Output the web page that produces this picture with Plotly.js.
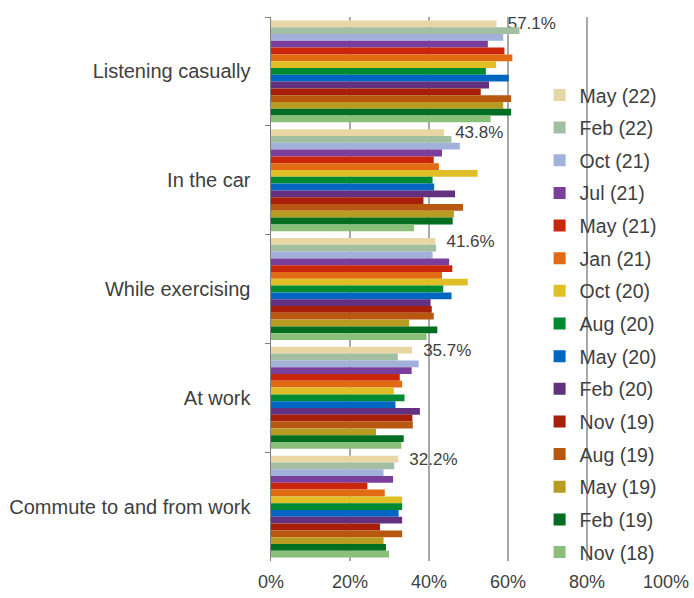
<!DOCTYPE html>
<html>
<head>
<meta charset="utf-8">
<script src="https://cdn.plot.ly/plotly-3.0.1.min.js"></script>
<style>html,body{margin:0;padding:0;background:#fff;}#chart{width:694px;height:598px;}</style>
</head>
<body>
<div id="chart"></div>
<script>
const categories = ["Listening casually", "In the car", "While exercising", "At work", "Commute to and from work"];
const seriesNames = ["May (22)", "Feb (22)", "Oct (21)", "Jul (21)", "May (21)", "Jan (21)", "Oct (20)", "Aug (20)", "May (20)", "Feb (20)", "Nov (19)", "Aug (19)", "May (19)", "Feb (19)", "Nov (18)"];
const seriesColors = ["#E8D6A4", "#A2BFA2", "#A1B1DA", "#7A3F9D", "#C9260B", "#E06B13", "#E0BF26", "#008A31", "#0066C1", "#633180", "#A81F09", "#B8570F", "#B89B21", "#006E21", "#8ABF7A"];

const may22 = [0.571, 0.438, 0.416, 0.357, 0.322];
const feb22 = [0.629, 0.457, 0.418, 0.321, 0.312];
const oct21 = [0.588, 0.478, 0.409, 0.374, 0.285];
const jul21 = [0.549, 0.433, 0.451, 0.356, 0.309];
const may21 = [0.591, 0.412, 0.459, 0.326, 0.244];
const jan21 = [0.611, 0.425, 0.433, 0.332, 0.288];
const oct20 = [0.570, 0.523, 0.498, 0.311, 0.332];
const aug20 = [0.544, 0.409, 0.436, 0.338, 0.332];
const may20 = [0.602, 0.413, 0.457, 0.315, 0.323];
const feb20 = [0.552, 0.466, 0.404, 0.377, 0.332];
const nov19 = [0.531, 0.386, 0.407, 0.358, 0.276];
const aug19 = [0.608, 0.486, 0.412, 0.359, 0.332];
const may19 = [0.588, 0.463, 0.350, 0.266, 0.285];
const feb19 = [0.608, 0.460, 0.421, 0.336, 0.291];
const nov18 = [0.556, 0.362, 0.394, 0.330, 0.299];

const seriesValues = [may22, feb22, oct21, jul21, may21, jan21, oct20, aug20, may20, feb20, nov19, aug19, may19, feb19, nov18];
const labelledSeries = 0;

const textColor = "#404040";
const traces = seriesNames.map((name, i) => {
  const t = {
    type: "bar",
    orientation: "h",
    name: name,
    legendgroup: name,
    x: seriesValues[i],
    y: categories,
    marker: { color: seriesColors[i], line: { width: 0 } },
    hoverinfo: "x+name"
  };
  if (i === labelledSeries) {
    t.text = seriesValues[i].map(v => "\u2009\u00a0" + (v * 100).toFixed(1) + "%");
    t.textposition = "outside";
    t.constraintext = "none";
    t.cliponaxis = false;
    t.outsidetextfont = { family: "Liberation Sans, Arial, sans-serif", size: 17, color: textColor };
  }
  return t;
});

const layout = {
  width: 694,
  height: 598,
  margin: { l: 271, r: 28, t: 17, b: 37, autoexpand: false },
  paper_bgcolor: "#ffffff",
  plot_bgcolor: "#ffffff",
  barmode: "group",
  bargap: 0.063,
  bargroupgap: 0,
  font: { family: "Liberation Sans, Arial, sans-serif", color: textColor, size: 18 },
  showlegend: true,
  legend: {
    x: 0.68, xanchor: "left",
    y: 0.892, yanchor: "top",
    traceorder: "grouped",
    tracegroupgap: 4.3,
    maxheight: 560,
    bgcolor: "rgba(0,0,0,0)",
    font: { size: 19.5, color: textColor }
  },
  xaxis: {
    range: [0, 1],
    tickvals: [0, 0.2, 0.4, 0.6, 0.8, 1.0],
    tickformat: ".0%",
    showgrid: true,
    gridcolor: "#A8A8A8",
    gridwidth: 1.5,
    zeroline: false,
    showline: false,
    ticks: "",
    ticklabelstandoff: 8,
    tickfont: { size: 18, color: textColor },
    fixedrange: true
  },
  yaxis: {
    type: "category",
    autorange: "reversed",
    showgrid: false,
    zeroline: false,
    showline: true,
    linecolor: "#808080",
    linewidth: 1.5,
    ticks: "outside",
    tickson: "boundaries",
    ticklen: 5,
    tickcolor: "#808080",
    ticklabelstandoff: 15,
    tickfont: { size: 20, color: textColor },
    fixedrange: true
  }
};

Plotly.newPlot("chart", traces, layout, { displayModeBar: false, staticPlot: true });
</script>
</body>
</html>
